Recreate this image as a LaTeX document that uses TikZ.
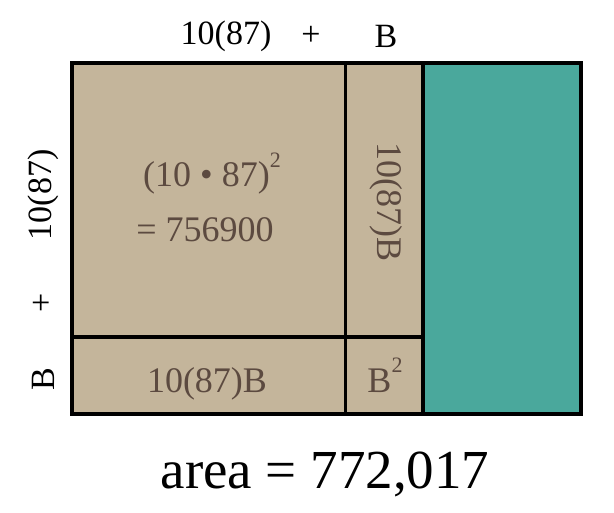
\documentclass[tikz,border=0pt]{standalone}
\usepackage{fontspec}
\setmainfont{Liberation Serif}
\definecolor{tan}{HTML}{C4B59B}
\definecolor{teal}{HTML}{4AA89C}
\definecolor{inktext}{HTML}{5C4A40}
\tikzset{
  lbl/.style={font=\fontsize{34}{34}\selectfont, text=black, inner sep=0pt},
  inlbl/.style={font=\fontsize{36}{36}\selectfont, text=inktext, inner sep=0pt},
  border/.style={line width=3.8pt, draw=black}
}
\newcommand{\supd}[1]{\raisebox{0.55em}{\fontsize{22}{22}\selectfont #1}}
\begin{document}
\begin{tikzpicture}[x=1pt,y=-1pt]
\useasboundingbox (0,0) rectangle (614,513);
% fills
\fill[tan] (72,63) rectangle (423,414);
\fill[teal] (423,63) rectangle (581,414);
% lines
\draw[border] (72,63) rectangle (581,414);
\draw[border] (345.5,63) -- (345.5,414);
\draw[border] (423,63) -- (423,414);
\draw[border] (72,337) -- (423,337);
% top labels
\node[lbl] (t1) at (226,36) {10(87)};
\node[lbl] (tp) at (311,36) {+};
\node[lbl] (tb) at (386,36) {B};
% left labels
\node[lbl, rotate=90] (l1) at (43,195) {10(87)};
\node[lbl, rotate=90] (lp) at (43,303) {+};
\node[lbl, rotate=90] (lb) at (43,379) {B};
% inner labels
\node[inlbl, anchor=base] (sq) at (212,187) {(10 • 87)\supd{2}};
\node[inlbl, anchor=base] (eq) at (205,242) {= 756900};
\node[inlbl, anchor=base] (bot) at (207,392) {10(87)B};
\node[inlbl, rotate=-90] (side) at (386,202) {10(87)B};
\node[inlbl, anchor=base] (bsq) at (385,392) {B\supd{2}};
% area
\node[font=\fontsize{55}{55}\selectfont, inner sep=0pt, anchor=base] (area) at (325,489) {area = 772,017};
\end{tikzpicture}
\end{document}
